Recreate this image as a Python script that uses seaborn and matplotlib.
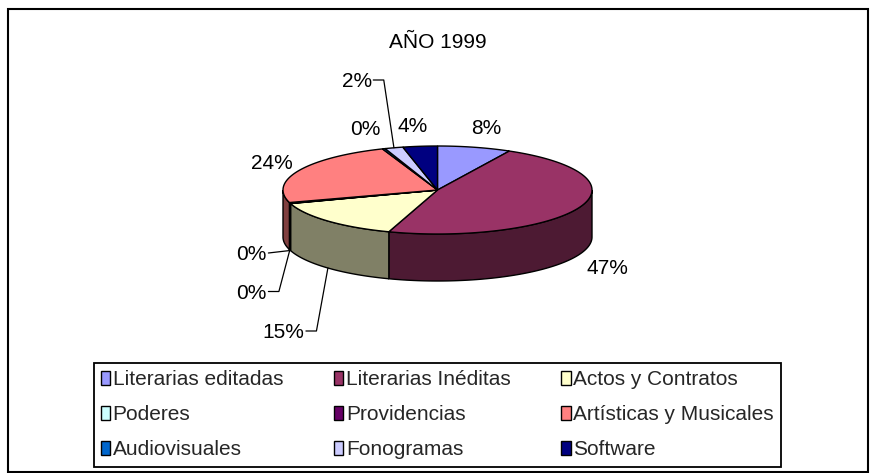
import numpy as np
import matplotlib
matplotlib.use("Agg")
import matplotlib.pyplot as plt
import matplotlib.colors as mcolors
import seaborn as sns
from matplotlib.patches import Patch, Rectangle

# ---------------- data ----------------
title = "AÑO 1999"
categories = ["Literarias editadas", "Literarias Inéditas", "Actos y Contratos",
              "Poderes", "Providencias", "Artísticas y Musicales",
              "Audiovisuales", "Fonogramas", "Software"]
values = [7.7, 47.4, 14.9, 0.1, 0.3, 23.8, 0.3, 1.9, 3.6]
colors = ["#9999FF", "#993366", "#FFFFCC", "#CCFFFF", "#660066",
          "#FF8080", "#0066CC", "#CCCCFF", "#000080"]

# ---------------- layout ----------------
sns.set_theme(style="white")
plt.rcParams["font.family"] = ["Liberation Sans", "DejaVu Sans"]
FS = 15

W, H = 871, 473
fig = plt.figure(figsize=(W / 100, H / 100), dpi=100)
ax = fig.add_axes([0, 0, 1, 1])
ax.set_xlim(0, W)
ax.set_ylim(H, 0)
ax.axis("off")

cx, cy, a, b, depth = 437.5, 190.0, 154.5, 44.0, 47.0


def pts(thetas, dy=0.0):
    t = np.radians(thetas)
    return cx + a * np.sin(t), cy - b * np.cos(t) + dy


def darken(c, f=0.5):
    return tuple(v * f for v in mcolors.to_rgb(c))


vals = np.array(values, dtype=float)
edges = np.concatenate([[0.0], np.cumsum(vals / vals.sum())]) * 360.0
palette = sns.color_palette(colors)

# side walls (front half of the cylinder)
for i, col in enumerate(palette):
    lo, hi = max(edges[i], 90.0), min(edges[i + 1], 270.0)
    if hi <= lo:
        continue
    ts = np.linspace(lo, hi, 80)
    xt, yt = pts(ts)
    xb, yb = pts(ts[::-1], depth)
    ax.fill(np.concatenate([xt, xb]), np.concatenate([yt, yb]),
            facecolor=darken(col), edgecolor="black", lw=1.0, zorder=2)

# top surface
for i, col in enumerate(palette):
    n = max(2, int((edges[i + 1] - edges[i]) * 2) + 2)
    ts = np.linspace(edges[i], edges[i + 1], n)
    xt, yt = pts(ts)
    ax.fill(np.concatenate([[cx], xt]), np.concatenate([[cy], yt]),
            facecolor=col, edgecolor="black", lw=1.0, zorder=3)

# percentage labels (baseline positions, layout)
label_pos = [(486.7, 133.5), (607.0, 273.5), (283.5, 338.0), (251.7, 260.0),
             (251.7, 298.5), (271.7, 168.5), (365.0, 135.0), (356.7, 87.0),
             (412.5, 132.0)]
leader = {2: True, 3: False, 4: True, 7: True}

fig.canvas.draw()
renderer = fig.canvas.get_renderer()
inv = ax.transData.inverted()

for i, v in enumerate(values):
    x, y = label_pos[i]
    t = ax.text(x, y, f"{round(v)}%", ha="center", va="baseline",
                fontsize=FS, color="black", zorder=5)
    if i in leader:
        bb = t.get_window_extent(renderer=renderer)
        (x0, y0), (x1, y1) = inv.transform([[bb.x0, bb.y0], [bb.x1, bb.y1]])
        ymid = y - 7.0
        sx = x1 + 1.5
        mid = 0.5 * (edges[i] + edges[i + 1])
        dy = depth if 90 <= mid <= 270 else 0.0
        axx, ayy = pts(np.array([mid]), dy)
        if leader[i]:
            xs = [sx, sx + 10.5, axx[0]]
            ys = [ymid, ymid, ayy[0]]
        else:
            xs = [sx, axx[0]]
            ys = [ymid, ayy[0]]
        ax.plot(xs, ys, color="black", lw=0.9, zorder=4)

ax.text(437.5, 48.3, title, ha="center", va="baseline", fontsize=FS, color="black")

# legend (row-wise order like the reference)
order = [0, 3, 6, 1, 4, 7, 2, 5, 8]
handles = [Patch(facecolor=palette[k], edgecolor="black", lw=1.0) for k in order]
labels = [categories[k] for k in order]
lx0, ltop, lx1 = 93.5, 362.7, 781.0
leg = fig.legend(handles, labels, ncol=3, loc="upper left", mode="expand",
                 bbox_to_anchor=(lx0 / W, 1 - ltop / H, (lx1 - lx0) / W, 0),
                 bbox_transform=fig.transFigure,
                 fontsize=FS, frameon=True, fancybox=False, framealpha=1,
                 edgecolor="black", borderpad=0.35, borderaxespad=0,
                 handlelength=0.45, handleheight=0.65, handletextpad=0.12,
                 labelspacing=0.78)
leg.get_frame().set_linewidth(1.3)

# chart border
ax.add_patch(Rectangle((7.5, 9.5), 860, 462, fill=False, edgecolor="black",
                       lw=1.5, zorder=10, clip_on=False))

fig.savefig("out.png", dpi=100, facecolor="white")
